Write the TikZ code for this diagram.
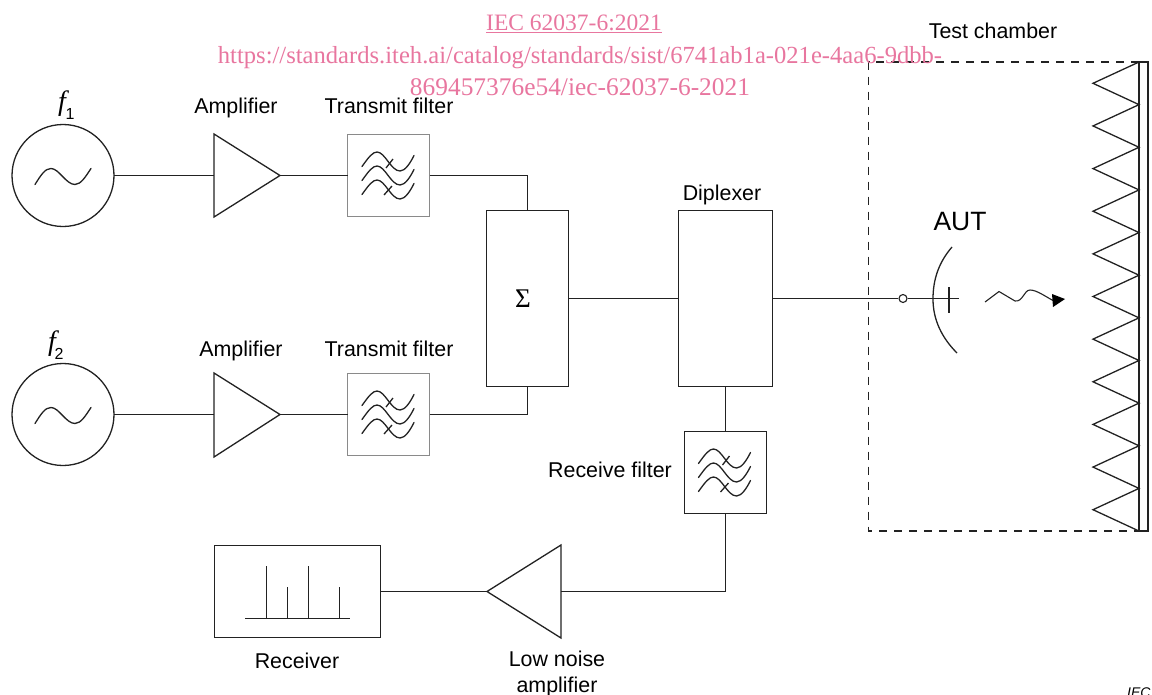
\documentclass[tikz,border=0pt]{standalone}
\usepackage{fontspec}
\setmainfont{Liberation Sans}
\newfontfamily\wmfont{Liberation Serif}
\usetikzlibrary{calc}
\definecolor{ink}{HTML}{222222}
\definecolor{wm}{HTML}{E8769F}
\definecolor{fbox}{HTML}{8A8A8A}
\newcommand{\filterglyph}[1]{%
  \begin{scope}[shift={(#1)}]
    \foreach \dy in {0,14,28}{
      \draw[wire,line cap=round] (-26,-9+\dy) .. controls (-19,-19+\dy) and (-15,-23.5+\dy) .. (-11,-23.5+\dy)
        .. controls (-3,-23.5+\dy) and (3,-4.5+\dy) .. (12,-4.5+\dy)
        .. controls (17,-4.5+\dy) and (22,-12+\dy) .. (26,-20+\dy);
    }
    \draw[wire] (-2,-7.5) -- (5,-16.5);
    \draw[wire] (-4,19.5) -- (4,10.5);
  \end{scope}}
\newcommand{\sineglyph}[1]{%
  \draw[wire,line cap=round,shift={(#1)}] (-28,8.5) .. controls (-22,-1) and (-18,-7.5) .. (-12,-7.5)
    .. controls (-4,-7.5) and (3,8.5) .. (12,8.5)
    .. controls (18,8.5) and (23,0) .. (28,-7.5);}
\tikzset{
  wire/.style={draw=ink,line width=1.3pt},
  boxnode/.style={draw=ink,line width=1.3pt,rectangle,inner sep=0pt,outer sep=0pt},
  filtbox/.style={draw=fbox,line width=0.9pt,rectangle,inner sep=0pt,outer sep=0pt,minimum width=82pt,minimum height=82pt},
  source/.style={draw=ink,line width=1.3pt,circle,inner sep=0pt,outer sep=0pt,minimum size=102pt},
  lbl/.style={font=\fontsize{21.4}{24}\selectfont,text=black,inner sep=0pt,align=center},
  wmtxt/.style={font=\wmfont\fontsize{24.6}{26}\selectfont,text=wm,inner sep=0pt},
  fsym/.style={font=\wmfont\itshape\fontsize{28}{28}\selectfont,inner sep=0pt},
  fsub/.style={font=\fontsize{16}{16}\selectfont,inner sep=0pt}
}
\begin{document}
\begin{tikzpicture}[x=1pt,y=-1pt]
\useasboundingbox (0,0) rectangle (1152,694);
% sources
\node[source] (s1) at (63,175.5) {};
\node[source] (s2) at (63,414.5) {};
\sineglyph{63,176}
\sineglyph{63,415}
\node[fsym] (f1) at (62,104) {f};
\node[fsub] (f1s) at (70,114) {1};
\node[fsym] (f2) at (52,344) {f};
\node[fsub] (f2s) at (59,354) {2};
% amplifiers
\coordinate (a1in) at (214,175.5); \coordinate (a1out) at (280,175.5);
\coordinate (a2in) at (214,414.5); \coordinate (a2out) at (280,414.5);
\draw[wire,line join=miter] (214,134) -- (a1out) -- (214,217) -- cycle;
\draw[wire,line join=miter] (214,373) -- (a2out) -- (214,457) -- cycle;
% filters
\node[filtbox] (t1) at (388.5,175.5) {};
\node[filtbox] (t2) at (388.5,414.5) {};
\node[filtbox,draw=ink] (rx) at (725.5,472.5) {};
\filterglyph{388,175.5}
\filterglyph{388,414.5}
\filterglyph{724.5,472.5}
% combiner and diplexer
\node[boxnode,minimum width=82pt,minimum height=176pt] (sum) at (527.5,298.5) {};
\node[font=\wmfont\fontsize{27}{27}\selectfont,inner sep=0pt] (sg) at (523,299) {Σ};
\node[boxnode,minimum width=94pt,minimum height=176pt] (dip) at (725.5,298.5) {};
% receiver
\node[boxnode,minimum width=166pt,minimum height=92pt] (rcv) at (297.5,591.5) {};
\draw[wire] (245,618.5) -- (350,618.5);
\draw[wire] (266.5,618) -- (266.5,566);
\draw[wire] (287.5,618) -- (287.5,587);
\draw[wire] (308.5,618) -- (308.5,566);
\draw[wire] (339.5,618) -- (339.5,587);
% LNA
\coordinate (lin) at (561,591.5); \coordinate (lout) at (487,591.5);
\draw[wire,line join=miter] (561,545) -- (lout) -- (561,638) -- cycle;
% connectors
\draw[wire] (s1) -- (a1in);
\draw[wire] (s2.east) -- (a2in);
\draw[wire] (a1out) -- (t1);
\draw[wire] (a2out) -- (t2);
\draw[wire] (t1.east) -| (sum.north);
\draw[wire] (t2.east) -| (sum.south);
\draw[wire] (sum.east) -- (dip.west);
\draw[wire] (dip.south) -- (dip.south |- rx.north);
\draw[wire] (rx.south) |- (lin);
\draw[wire] (lout) -- (rcv.east |- lout);
% antenna
\node[draw=ink,line width=1.1pt,circle,fill=white,inner sep=0pt,minimum size=8pt] (port) at (903,298.5) {};
\coordinate (feed) at (959,298.5);
\draw[wire] (dip.east |- port) -- (port);
\draw[wire] (port) -- (feed);
\draw[wire] (949,287) -- (949,313);
\draw[wire] (952,247) .. controls (939,262) and (933,279) .. (933,299) .. controls (933,320) and (942,338) .. (957,353);
% wave
\draw[line width=1.1pt,draw=ink] (985,302) -- (999,291.5) -- (1015,301) .. controls (1023,302) and (1024,290) .. (1030,290) .. controls (1037,290) and (1046,297) .. (1054,301);
\fill[black] (1052,294) -- (1065,299) -- (1053,307) -- cycle;
% chamber
\draw[ink,line width=1.1pt,dash pattern=on 8pt off 7pt] (1139,62) -- (868.5,62) -- (868.5,531) -- (1139,531);
\draw[wire] (1139,62) rectangle (1148,531);
\draw[wire,line join=miter] (1139,62)
  \foreach \k in {0,...,10}{ -- (1093,{83.3+42.64*\k}) -- (1139,{62+42.64*(\k+1)}) };
% labels
\node[lbl] (lTC) at (993,31) {Test chamber};
\node[lbl] (lA1) at (236,108) {Amplifier};
\node[lbl] (lT1) at (389,106) {Transmit filter};
\node[lbl] (lA2) at (241,351) {Amplifier};
\node[lbl] (lT2) at (389,349) {Transmit filter};
\node[lbl] (lD) at (722,195) {Diplexer};
\node[lbl,font=\fontsize{26.5}{28}\selectfont] (lAUT) at (960,222) {AUT};
\node[lbl] (lRF) at (610,470) {Receive filter};
\node[lbl] (lR) at (297,661) {Receiver};
\node[lbl,font=\fontsize{21.4}{26}\selectfont] (lL) at (557,674) {Low noise\\amplifier};
\node[font=\itshape\fontsize{14}{14}\selectfont,inner sep=0pt,anchor=base west] (lI) at (1127,697) {IEC};
% watermark
\node[wmtxt,font=\wmfont\fontsize{23.5}{26}\selectfont] (w1) at (574,24) {\underline{IEC 62037-6:2021}};
\node[wmtxt] (w2) at (580,58) {https://standards.iteh.ai/catalog/standards/sist/6741ab1a-021e-4aa6-9dbb-};
\node[wmtxt,font=\wmfont\fontsize{25.4}{26}\selectfont] (w3) at (580,87) {869457376e54/iec-62037-6-2021};
\end{tikzpicture}
\end{document}
